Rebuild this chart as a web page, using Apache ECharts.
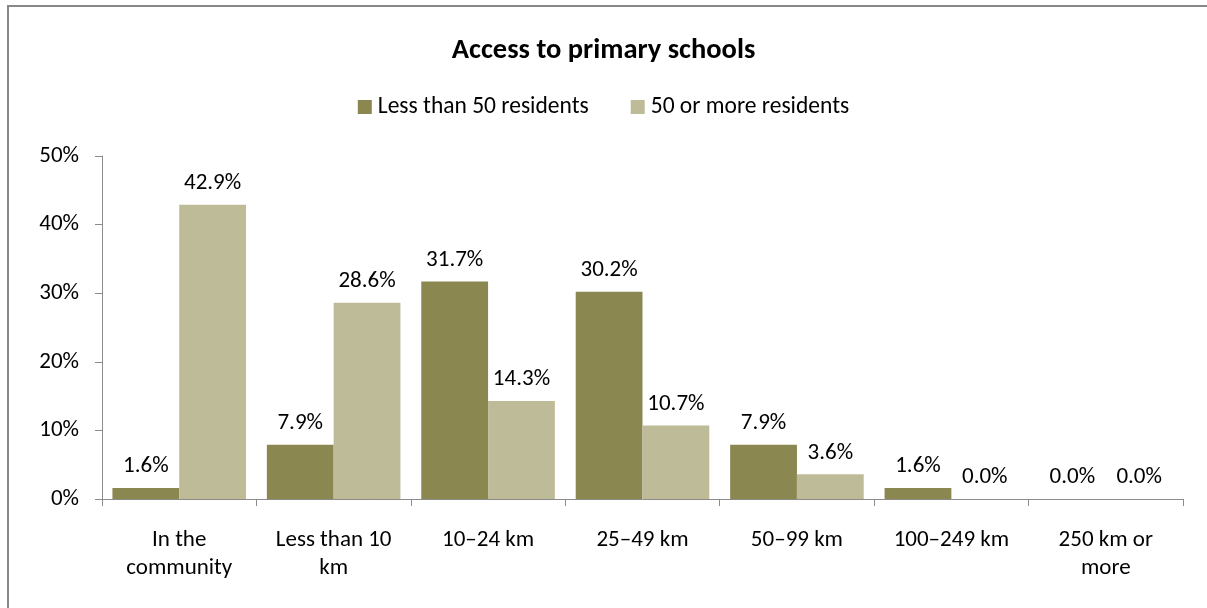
<!DOCTYPE html>
<html>
<head>
<meta charset="utf-8">
<script src="https://cdn.jsdelivr.net/npm/echarts@6/dist/echarts.min.js"></script>
<style>
  html, body { margin: 0; padding: 0; background: #ffffff; }
  #chart { width: 1207px; height: 608px; }
</style>
</head>
<body>
<div id="chart"></div>
<script>
// Distance to the nearest primary school, share of communities by size
const categories = ['In the\ncommunity', 'Less than 10\nkm', '10\u201324 km', '25\u201349 km', '50\u201399 km', '100\u2013249 km', '250 km or\nmore'];
const seriesNames = ['Less than 50 residents', '50 or more residents'];
const smallCommunities = [1.6, 7.9, 31.7, 30.2, 7.9, 1.6, 0.0];
const largeCommunities = [42.9, 28.6, 14.3, 10.7, 3.6, 0.0, 0.0];
const colors = ['#8b8750', '#bebb98'];

const font = 'Carlito, Calibri, "Liberation Sans Narrow", "Open Sans", sans-serif';
const axisGray = '#8c8c8c';
const textSize = 23;

const chart = echarts.init(document.getElementById('chart'), null, { renderer: 'canvas' });

const labelStyle = {
  show: true,
  position: 'top',
  distance: 10,
  color: '#000',
  fontSize: textSize,
  fontFamily: font,
  formatter: p => p.value.toFixed(1) + '%'
};

chart.setOption({
  animation: false,
  backgroundColor: '#ffffff',
  graphic: [{
    type: 'rect',
    shape: { x: 8, y: 6, width: 1220, height: 620 },
    style: { fill: 'none', stroke: '#888888', lineWidth: 2 },
    silent: true,
    z: -1
  }],
  title: {
    text: 'Access to primary schools',
    left: 'center',
    top: 31,
    textStyle: { fontFamily: font, fontWeight: 'bold', fontSize: 28.5, color: '#000' }
  },
  legend: {
    data: seriesNames,
    top: 90,
    left: 'center',
    itemWidth: 14,
    itemHeight: 14,
    itemGap: 42,
    icon: 'rect',
    textStyle: { fontFamily: font, fontSize: 23.5, color: '#000', padding: [0, 0, 0, 1] }
  },
  grid: { left: 102, right: 24, top: 156, bottom: 109, containLabel: false },
  xAxis: {
    type: 'category',
    data: categories,
    axisLine: { lineStyle: { color: axisGray, width: 1 } },
    axisTick: { show: true, alignWithLabel: false, length: 7, lineStyle: { color: axisGray } },
    axisLabel: { fontFamily: font, fontSize: textSize, color: '#000', margin: 27, lineHeight: 28, interval: 0 }
  },
  yAxis: {
    type: 'value',
    min: 0,
    max: 50,
    interval: 10,
    axisLine: { show: true, lineStyle: { color: axisGray, width: 1 } },
    axisTick: { show: true, length: 7, lineStyle: { color: axisGray } },
    splitLine: { show: false },
    axisLabel: { fontFamily: font, fontSize: textSize, color: '#000', margin: 23, formatter: v => v + '%' }
  },
  series: [
    {
      name: seriesNames[0],
      type: 'bar',
      data: smallCommunities,
      itemStyle: { color: colors[0] },
      barGap: '0%',
      barCategoryGap: '13.5%',
      label: labelStyle
    },
    {
      name: seriesNames[1],
      type: 'bar',
      data: largeCommunities,
      itemStyle: { color: colors[1] },
      barGap: '0%',
      barCategoryGap: '13.5%',
      label: labelStyle
    }
  ]
});
</script>
</body>
</html>
